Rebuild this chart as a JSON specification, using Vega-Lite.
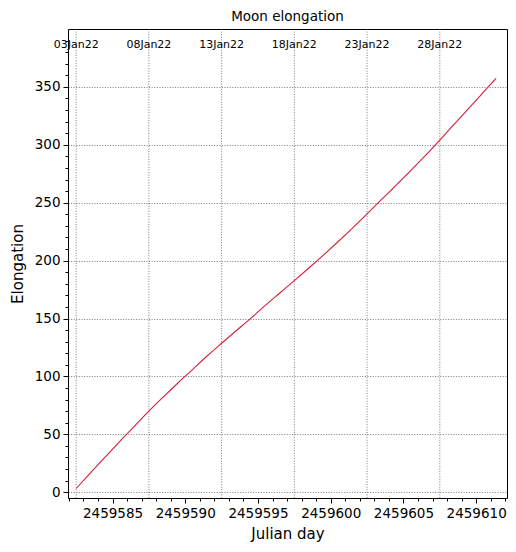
{
  "$schema": "https://vega.github.io/schema/vega-lite/v6.json",
  "title": {
    "text": "Moon elongation",
    "font": "DejaVu Sans",
    "fontSize": 13.5,
    "fontWeight": "normal",
    "color": "black",
    "anchor": "middle",
    "baseline": "bottom",
    "offset": -9
  },
  "autosize": {"type": "none"},
  "padding": {"left": 68, "top": 29, "right": 9, "bottom": 54},
  "width": 439,
  "height": 469,
  "config": {
    "view": {"stroke": "black", "strokeWidth": 1},
    "font": "DejaVu Sans",
    "axis": {
      "labelFont": "DejaVu Sans",
      "titleFont": "DejaVu Sans",
      "labelColor": "black",
      "titleColor": "black",
      "tickColor": "black",
      "domain": false,
      "titleFontWeight": "normal"
    }
  },
  "datasets": {
    "curve": [
      {"jd": 2459582.5, "elong": 3.2},
      {"jd": 2459583.5, "elong": 16.9},
      {"jd": 2459584.5, "elong": 30.4},
      {"jd": 2459585.5, "elong": 43.8},
      {"jd": 2459586.5, "elong": 56.9},
      {"jd": 2459587.5, "elong": 70.0},
      {"jd": 2459588.5, "elong": 82.3},
      {"jd": 2459589.5, "elong": 94.3},
      {"jd": 2459590.5, "elong": 105.9},
      {"jd": 2459591.5, "elong": 117.6},
      {"jd": 2459592.5, "elong": 128.6},
      {"jd": 2459593.5, "elong": 139.4},
      {"jd": 2459594.5, "elong": 150.1},
      {"jd": 2459595.5, "elong": 161.3},
      {"jd": 2459596.5, "elong": 172.0},
      {"jd": 2459597.5, "elong": 182.7},
      {"jd": 2459598.5, "elong": 193.6},
      {"jd": 2459599.5, "elong": 204.8},
      {"jd": 2459600.5, "elong": 216.3},
      {"jd": 2459601.5, "elong": 228.1},
      {"jd": 2459602.5, "elong": 240.3},
      {"jd": 2459603.5, "elong": 252.8},
      {"jd": 2459604.5, "elong": 265.1},
      {"jd": 2459605.5, "elong": 277.7},
      {"jd": 2459606.5, "elong": 290.6},
      {"jd": 2459607.5, "elong": 304.1},
      {"jd": 2459608.5, "elong": 317.9},
      {"jd": 2459609.5, "elong": 331.7},
      {"jd": 2459610.5, "elong": 345.4},
      {"jd": 2459611.37, "elong": 357.3}
    ],
    "dates": [
      {"jd": 2459582.5, "label": "03Jan22"},
      {"jd": 2459587.5, "label": "08Jan22"},
      {"jd": 2459592.5, "label": "13Jan22"},
      {"jd": 2459597.5, "label": "18Jan22"},
      {"jd": 2459602.5, "label": "23Jan22"},
      {"jd": 2459607.5, "label": "28Jan22"}
    ]
  },
  "layer": [
    {
      "data": {"name": "dates"},
      "mark": {"type": "rule", "color": "#444444", "strokeWidth": 0.7, "strokeDash": [1, 1.6]},
      "encoding": {
        "x": {
          "field": "jd",
          "type": "quantitative",
          "scale": {"domain": [2459581.94, 2459612.12], "nice": false, "zero": false},
          "axis": {
            "orient": "bottom",
            "values": [2459582, 2459583, 2459584, 2459585, 2459586, 2459587, 2459588, 2459589, 2459590, 2459591, 2459592, 2459593, 2459594, 2459595, 2459596, 2459597, 2459598, 2459599, 2459600, 2459601, 2459602, 2459603, 2459604, 2459605, 2459606, 2459607, 2459608, 2459609, 2459610, 2459611, 2459612],
            "labels": false,
            "grid": false,
            "tickSize": 3,
            "title": null
          }
        }
      }
    },
    {
      "mark": {"type": "rule", "color": "black", "strokeWidth": 1.2},
      "encoding": {
        "y": {
          "datum": 0,
          "type": "quantitative",
          "axis": {
            "orient": "left",
            "values": [0, 10, 20, 30, 40, 60, 70, 80, 90, 110, 120, 130, 140, 160, 170, 180, 190, 210, 220, 230, 240, 260, 270, 280, 290, 310, 320, 330, 340, 360, 370, 380, 390],
            "labels": false,
            "grid": false,
            "tickSize": 3,
            "title": null
          }
        }
      }
    },
    {
      "data": {"name": "curve"},
      "mark": {"type": "line", "color": "#d41f3a", "strokeWidth": 1.1, "interpolate": "monotone"},
      "encoding": {
        "x": {
          "field": "jd",
          "type": "quantitative",
          "axis": {
            "orient": "bottom",
            "values": [2459585, 2459590, 2459595, 2459600, 2459605, 2459610],
            "format": "d",
            "grid": false,
            "tickSize": 5,
            "labelFontSize": 13.5,
            "labelPadding": 3,
            "title": "Julian day",
            "titleFontSize": 15,
            "titlePadding": 7
          }
        },
        "y": {
          "field": "elong",
          "type": "quantitative",
          "scale": {"domain": [-5, 400], "nice": false, "zero": false},
          "axis": {
            "orient": "left",
            "values": [0, 50, 100, 150, 200, 250, 300, 350],
            "format": "d",
            "grid": true,
            "gridColor": "#444444",
            "gridWidth": 0.7,
            "gridDash": [1, 1.6],
            "tickSize": 5,
            "labelFontSize": 13.5,
            "labelPadding": 3,
            "title": "Elongation",
            "titleFontSize": 15,
            "titlePadding": 9
          }
        }
      }
    },
    {
      "data": {"name": "dates"},
      "mark": {"type": "text", "fontSize": 11, "color": "black", "align": "center", "baseline": "alphabetic", "font": "DejaVu Sans"},
      "encoding": {
        "x": {"field": "jd", "type": "quantitative", "axis": null},
        "y": {"datum": 384, "type": "quantitative", "axis": null},
        "text": {"field": "label"}
      }
    }
  ],
  "resolve": {"axis": {"x": "independent", "y": "independent"}}
}
